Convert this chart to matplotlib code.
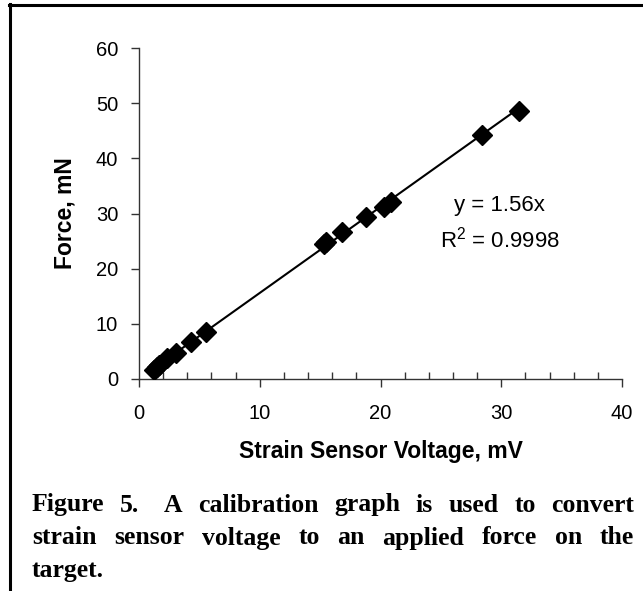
import matplotlib
matplotlib.use("Agg")
import re
import matplotlib.pyplot as plt
from matplotlib.lines import Line2D
from matplotlib.ticker import MultipleLocator

# ---- data ----
voltage_mv = [1.24, 1.45, 1.66, 2.35, 3.04, 4.29, 5.53, 15.3, 15.5, 16.8, 18.8, 20.3, 20.9, 28.4, 31.5]
force_mn = [1.63, 2.1, 2.54, 3.74, 4.65, 6.76, 8.57, 24.5, 24.8, 26.6, 29.3, 31.1, 32.0, 44.3, 48.6]
slope = 1.56
r_squared = 0.9998
x_ticks = [0, 10, 20, 30, 40]
y_ticks = [0, 10, 20, 30, 40, 50, 60]
x_label = "Strain Sensor Voltage, mV"
y_label = "Force, mN"
caption_lines = [
    "Figure 5.  A calibration graph is used to convert",
    "strain sensor voltage to an applied force on the",
    "target.",
]

plt.rcParams['font.family'] = ['Liberation Sans', 'DejaVu Sans']
plt.rcParams['mathtext.default'] = 'regular'

W, H = 643, 591
fig = plt.figure(figsize=(W / 100, H / 100), dpi=100)
ax = fig.add_axes([139 / W, 1 - 379 / H, (622 - 139) / W, (379 - 48) / H])

ax.plot(voltage_mv, force_mn, linestyle='none', marker='D', markersize=10,
        color='black', zorder=3)
xs = [min(voltage_mv), max(voltage_mv)]
ax.plot(xs, [slope * v for v in xs], color='black', lw=1.5, zorder=2)

ax.set_xlim(0, 40)
ax.set_ylim(0, 60)
ax.set_xticks(x_ticks)
ax.set_yticks(y_ticks)
ax.xaxis.set_minor_locator(MultipleLocator(2))
for s in ['top', 'right']:
    ax.spines[s].set_visible(False)
for s in ['left', 'bottom']:
    ax.spines[s].set_color('#333333')
    ax.spines[s].set_linewidth(1)
ax.tick_params(axis='both', which='major', direction='out', length=6, width=1,
               color='#333333', labelsize=14.5)
ax.tick_params(axis='x', which='major', pad=12)
ax.tick_params(axis='y', which='major', pad=9)
ax.tick_params(axis='x', which='minor', direction='in', length=5, width=1, color='#333333')
ax.tick_params(axis='y', which='minor', length=0)

ax.set_xlabel(x_label, fontsize=16.5, fontweight='bold', labelpad=12)
ax.set_ylabel(y_label, fontsize=16.5, fontweight='bold', labelpad=14)

ax.text(0.747, 0.523, f"y = {slope}x", transform=ax.transAxes, fontsize=16,
        ha='center', va='center')
ax.text(0.747, 0.42, f"R$^{{2}}$ = {r_squared}", transform=ax.transAxes, fontsize=16,
        ha='center', va='center')

# frame lines
fig.add_artist(Line2D([9 / W, 1], [1 - 5 / H, 1 - 5 / H], transform=fig.transFigure,
                      color='black', lw=2.2))
fig.add_artist(Line2D([10 / W, 10 / W], [0, 1 - 4 / H], transform=fig.transFigure,
                      color='black', lw=2.2))

# justified caption (spaces weighted, so a double space gives a wider gap)
renderer = fig.canvas.get_renderer()
left_px, right_px = 32, 634
line_y = [505, 538, 570]
cap_kw = dict(fontsize=18.5, fontweight='bold', family='Liberation Serif', va='center', ha='left')
for i, line in enumerate(caption_lines):
    y = 1 - line_y[i] / H
    words = line.split()
    if i == len(caption_lines) - 1 or len(words) == 1:
        fig.text(left_px / W, y, line, **cap_kw)
        continue
    space_runs = [len(s) for s in re.findall(r' +', line)]
    texts = [fig.text(0, y, w, **cap_kw) for w in words]
    widths = [t.get_window_extent(renderer).width for t in texts]
    unit = (right_px - left_px - sum(widths)) / (sum(space_runs) + 0.6 * sum(r - 1 for r in space_runs) - sum(r - 1 for r in space_runs))
    x = left_px
    for k, (t, w) in enumerate(zip(texts, widths)):
        t.set_x(x / W)
        if k < len(space_runs):
            x += w + unit * (1 + 0.6 * (space_runs[k] - 1))

fig.savefig("out.png", dpi=100)
